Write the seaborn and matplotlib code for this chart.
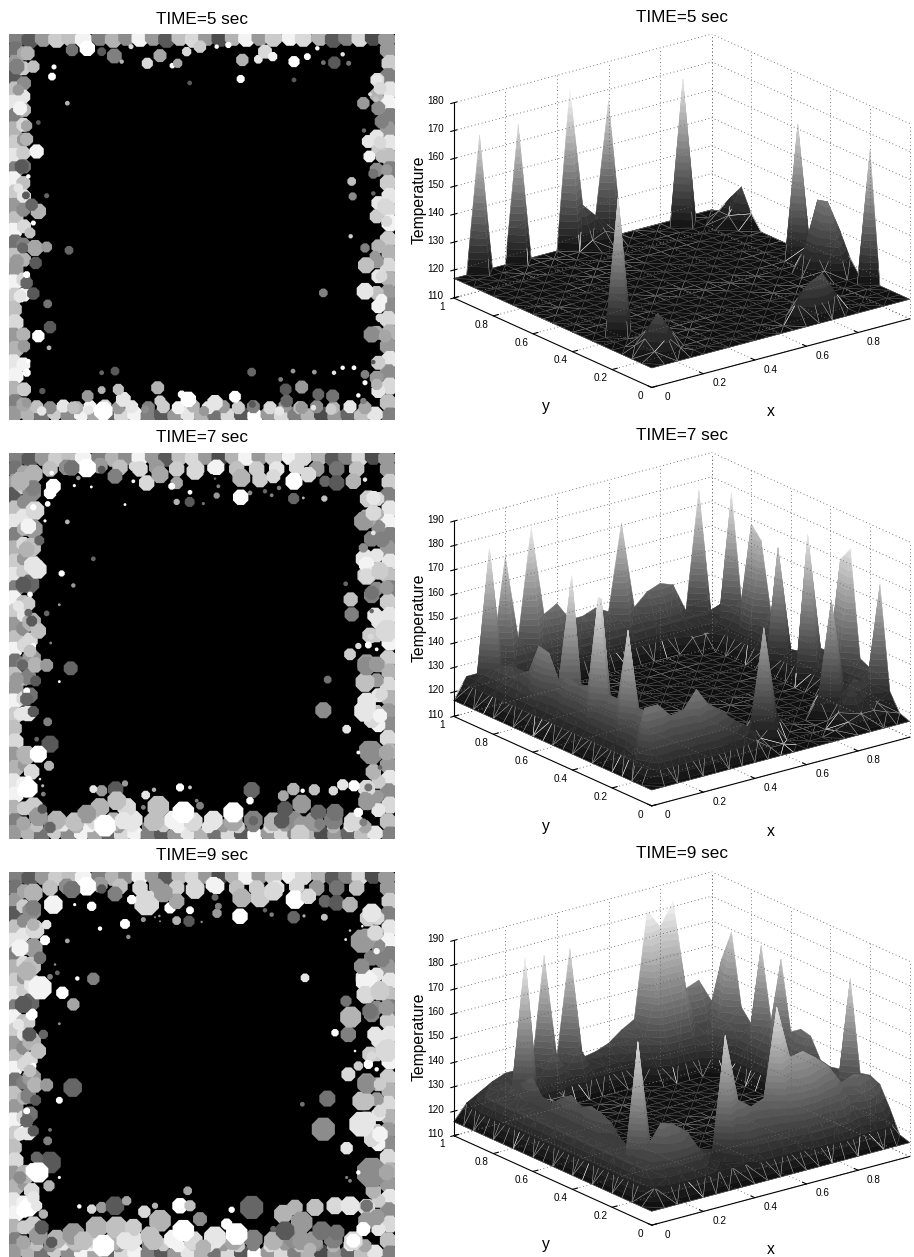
import numpy as np
import pandas as pd
import seaborn as sns
import matplotlib
matplotlib.use("Agg")
import matplotlib.pyplot as plt
from mpl_toolkits.mplot3d import proj3d
from mpl_toolkits.mplot3d.art3d import Poly3DCollection

# grains: x, y, diameter, gray
PANEL_TOPS = [102, 85, 82]

EDGE = [
    (50,115,55,.5),(90,120,55,.35),(130,115,55,.6),(170,118,55,.8),(210,112,55,.75),(250,118,55,.95),(300,112,55,.5),
    (340,118,55,.7),(380,112,55,.55),(420,115,55,.95),(460,112,55,.6),(500,118,55,.35),(540,112,55,.75),(580,118,55,.85),
    (620,112,55,.6),(660,115,55,.3),(700,112,55,.7),(740,115,55,.95),(780,112,55,.6),(820,115,55,.8),(870,112,55,.95),
    (910,115,55,.85),(960,112,55,.7),(1000,118,55,.35),(1040,112,55,.5),(1080,115,55,.85),(1120,112,55,.3),(1160,118,55,.6),
    (45,150,55,.45),(45,190,55,.6),(40,230,55,.35),(45,270,55,.75),(40,310,55,.9),(45,350,55,.5),(40,390,55,.7),(45,430,55,.8),
    (40,470,55,.9),(45,510,55,.5),(40,540,55,.95),(45,580,55,.8),(40,620,55,.6),(45,660,55,.75),(40,695,55,.95),(45,730,55,.45),
    (40,770,55,.75),(45,810,55,.6),(40,850,55,.95),(45,890,55,.8),(40,930,55,.75),(45,970,55,.85),(40,1010,55,.6),(45,1050,55,.7),
    (40,1090,55,.9),(45,1130,55,.95),(40,1170,55,.7),(45,1210,55,.5),(40,1245,55,.6),
    (1165,150,55,.6),(1170,190,55,.8),(1165,230,55,.5),(1170,270,55,.9),(1165,310,55,.95),(1170,350,55,.5),(1165,390,55,.6),
    (1170,430,55,.9),(1165,470,55,.75),(1170,510,55,.5),(1165,550,55,.8),(1170,590,55,.9),(1165,630,55,.85),(1170,670,55,.95),
    (1165,720,55,.8),(1170,760,55,.7),(1165,800,55,.85),(1170,840,55,.7),(1165,880,55,.6),(1170,920,55,.55),(1165,960,55,.85),
    (1170,1000,55,.7),(1165,1040,55,.6),(1170,1080,55,.9),(1165,1120,55,.55),(1170,1160,55,.85),(1165,1210,55,.75),(1170,1250,55,.5),
    (85,1245,50,.7),(125,1250,50,.45),(165,1240,50,.8),(205,1250,50,.55),(245,1245,50,.95),(285,1250,50,.65),(325,1245,50,.4),
    (365,1250,50,.85),(405,1245,50,.95),(445,1250,50,.5),(485,1245,50,.35),(525,1250,50,.6),(565,1245,50,.9),(605,1250,50,.7),
    (645,1245,50,.45),(685,1250,50,.85),(725,1245,50,.35),(765,1250,50,1),(805,1245,50,.6),(845,1250,50,.85),(885,1245,50,.5),
    (925,1250,50,.7),(965,1245,50,.3),(1005,1250,50,.6),(1045,1245,50,.4),(1085,1250,50,.75),(1125,1245,50,.9),
]

EDGE_INNER = [
    (72,160,45,.65),(70,205,45,.8),(72,250,45,.55),(70,290,45,.9),(72,330,45,.7),(70,375,45,.85),(72,420,45,.6),(70,460,45,.8),(72,500,45,.45),
    (70,550,45,.75),(72,590,45,.9),(70,630,45,.55),(72,680,45,.85),(70,735,45,.5),(72,780,45,.7),(70,840,45,.85),(72,885,45,.95),
    (70,1005,45,.7),(72,1040,40,.6),(70,1095,45,.95),(72,1170,45,.8),(70,1215,45,.65),
    (1132,240,45,.85),(1130,285,45,.7),(1135,325,45,.55),(1130,410,45,.9),(1135,450,45,.8),(1130,510,45,.55),(1135,610,45,.9),(1130,650,45,.8),
    (1135,740,45,.7),(1130,785,45,.6),(1135,830,45,.9),(1130,880,45,.75),(1135,920,45,.95),(1130,1000,45,.65),(1135,1090,45,.8),(1130,1135,45,.6),(1135,1175,45,.9),
    (110,1222,42,.75),(150,1225,42,.55),(190,1220,42,.9),(230,1225,42,.7),(270,1222,42,.95),(315,1220,42,.85),(355,1225,42,.6),(395,1222,42,.9),
    (445,1225,42,.5),(490,1222,42,.8),(535,1225,42,.95),(580,1220,42,.7),(625,1225,42,.9),(670,1222,42,.6),(715,1225,42,.8),(760,1222,42,.5),(810,1225,42,.85),
    (855,1220,42,.6),(900,1225,42,.75),(950,1222,42,.55),(1000,1225,42,.7),(1050,1222,42,.9),(1095,1225,42,.65),
]

# extra band where the grains have grown, for the later two times
EDGE_WIDE = [
    (100,165,60,.7),(95,220,60,.55),(105,275,60,.85),(100,330,60,.6),(95,385,60,.75),(100,440,60,.9),(90,495,60,.4),(85,555,45,.8),(95,610,60,.7),
    (90,665,50,.85),(95,720,60,.6),(85,775,50,.5),(90,830,50,.45),(85,885,50,.9),(80,1010,60,.7),(95,1060,50,.85),(85,1110,60,1),(100,1165,60,.8),(115,1195,60,.6),
    (1105,240,55,.8),(1100,300,60,.65),(1115,360,50,.5),(1095,420,60,.9),(1100,470,60,.8),(1115,530,50,.5),(1125,590,50,.9),(1110,650,50,.8),(1100,735,60,.6),
    (1095,790,60,.75),(1100,850,60,.9),(1115,905,50,.85),(1105,995,60,.55),(1120,1060,50,.7),(1100,1110,55,.85),(1100,1150,55,.6),
    (170,1205,60,.7),(225,1210,60,.75),(285,1205,60,.85),(340,1210,60,.7),(400,1205,60,.9),(460,1210,60,.75),(520,1205,60,.95),(580,1210,60,.85),(640,1205,60,.9),
    (700,1210,60,.65),(760,1205,60,.5),(820,1210,60,.7),(880,1205,60,.55),(940,1210,60,.6),(1000,1205,60,.5),(1060,1210,60,.85),
    (150,150,50,.75),(200,145,50,.55),(300,140,50,.6),(360,145,50,.75),(420,150,50,.85),(470,145,50,.6),(530,150,50,.8),(590,150,50,.85),(650,145,50,.95),
    (710,150,50,.75),(770,150,50,.8),(830,150,50,.9),(890,145,50,.85),(950,150,50,.6),(1010,150,50,.45),(1070,150,50,.75),
]

GRAINS_5 = [
    (83,160,45,.7),(50,200,50,.5),(100,200,40,.75),(162,201,16,1),(156,230,25,1),(216,150,40,.45),(262,145,50,1),(305,155,28,.35),
    (343,168,48,.5),(365,185,14,.7),(393,140,16,.85),(442,190,36,.85),(480,167,42,.65),(517,197,18,1),(533,190,30,.65),(569,249,15,.35),
    (560,155,30,.85),(600,140,40,.8),(650,140,14,1),(685,135,20,1),(727,180,40,.7),(722,237,26,1),(775,178,28,.9),(795,155,45,.85),
    (818,170,30,.95),(882,185,36,1),(882,240,15,.35),(922,170,22,1),(952,145,14,1),(970,188,15,.45),(1003,188,40,.35),(1046,190,16,.45),
    (1028,163,14,.9),(1130,240,36,.9),(1110,283,12,.85),(1090,310,40,.6),(1128,298,18,.75),(1140,265,40,.85),(1145,365,45,.5),(1092,392,14,.4),
    (1105,425,42,.9),(1140,428,40,.85),(1108,470,38,.95),(1145,470,40,.75),(1120,522,32,.45),(1160,510,35,.6),(1055,545,28,.75),(1058,590,26,.55),
    (1120,581,14,.4),(1155,620,50,.85),(1160,665,35,.85),(1052,710,14,.8),(1095,745,30,.5),(1125,770,35,.6),(1098,797,52,.75),(1145,830,36,.85),
    (1095,875,54,.9),(1145,900,36,.95),(970,880,28,.5),(1140,955,28,.85),(1115,1005,52,.55),(1155,1010,40,.65),(1095,1125,28,.5),(1130,1155,36,.7),
    (1095,1150,16,1),(1120,1088,14,.35),(1062,1105,15,1),(1028,1105,14,1),(1002,1120,14,.9),(943,1118,15,.6),(879,1115,15,.6),(842,1140,15,.5),
    (755,1118,28,.4),(857,1170,38,.35),(905,1163,42,.6),(860,1205,40,.4),(955,1185,38,.4),(998,1190,42,.45),(1075,1188,14,1),(1090,1205,20,.5),
    (993,1230,35,.8),(905,1225,40,.6),(940,1225,18,.9),(838,1235,30,.9),(705,1192,38,1),(757,1215,22,.35),(645,1210,50,.9),(612,1235,32,.6),
    (565,1200,50,1),(545,1185,25,1),(480,1205,36,.8),(473,1165,42,.7),(435,1230,25,.55),(370,1200,48,.9),(355,1170,36,.75),(305,1172,25,.7),
    (263,1190,38,.6),(220,1225,40,.75),(265,1232,30,.9),(310,1235,60,1),(345,1115,28,.35),(305,1120,15,.4),(127,1175,20,.35),(80,1210,30,.6),
    (125,1235,30,.9),(85,1085,14,1),(80,1120,26,1),(50,1120,30,.95),(147,1045,15,.7),(115,1010,40,1),(150,983,40,.35),(143,913,28,.45),
    (100,882,40,.35),(80,850,40,.4),(80,825,22,1),(60,890,40,.9),(107,790,40,.35),(50,785,45,.6),(105,745,52,.65),(140,742,35,.6),
    (68,745,35,.4),(207,752,28,.4),(90,700,35,.75),(100,670,16,1),(115,635,50,.7),(95,615,40,.4),(140,588,16,.4),(78,587,25,.35),
    (55,565,30,.9),(85,530,14,1),(65,500,45,.35),(110,455,46,.95),(80,418,42,.7),(80,378,36,.65),(115,368,15,.35),(60,325,45,.95),
    (55,270,36,.6),(202,310,15,.7),
]

GRAINS_7 = [
    (160,185,48,1),(150,205,40,1),(100,248,20,1),(143,238,18,1),(135,289,10,1),(223,183,10,1),(274,187,9,1),(375,240,9,1),(400,170,12,1),
    (202,292,15,.7),(118,348,32,.4),(85,305,50,.95),(80,375,50,.7),(112,435,60,.9),(70,480,50,.35),(90,510,18,1),(185,447,20,1),(220,483,14,.6),
    (280,403,15,.4),(178,541,9,.6),(140,567,18,.4),(55,545,36,.9),(85,565,25,.4),(115,620,50,.75),(95,590,35,.35),(152,656,9,.5),(100,665,18,1),
    (90,680,40,.75),(105,722,50,.7),(140,723,42,.6),(68,722,35,.4),(212,732,45,.4),(178,772,9,1),(107,770,35,.35),(50,765,45,.6),(80,800,22,1),
    (80,825,42,.4),(100,862,36,.35),(60,870,40,.9),(143,893,28,.5),(150,960,55,.35),(110,945,15,.4),(115,990,55,1),(147,1025,32,.7),(120,1065,8,.9),
    (85,1065,22,1),(130,1110,15,.5),(128,1085,10,.7),(70,1100,40,1),(127,1155,30,.35),(305,1100,36,.6),(280,1095,25,.9),(347,1095,50,.35),
    (375,1078,20,.6),(437,1113,28,.9),(462,1097,14,.7),(540,1090,26,1),(570,1090,12,.8),(755,1098,52,.4),(750,1130,24,1),(850,1115,35,.65),
    (880,1095,40,.7),(908,1100,14,1),(943,1097,36,.75),(1000,1100,30,.85),(1028,1082,36,.9),(1062,1085,36,1),(905,1140,60,.6),(855,1155,50,.35),
    (845,1190,50,.35),(955,1165,50,.4),(1005,1165,55,.45),(960,1200,36,.5),(905,1200,50,.6),(900,1230,60,.8),(700,1165,65,1),(640,1195,50,.9),
    (600,1145,25,.5),(590,1130,12,.5),(550,1165,70,1),(475,1148,70,.75),(470,1190,50,.75),(430,1150,15,.5),(380,1150,60,.85),(350,1130,60,.75),
    (300,1150,60,.7),(260,1170,60,.6),(220,1195,50,.75),(315,1205,70,1),(370,1190,55,.9),(150,1210,36,.4),(760,1190,30,.4),(1105,1090,25,.45),
    (1095,1120,36,.6),(1075,1165,30,1),(1090,1195,25,.5),(1140,1030,15,.4),(1115,985,75,.55),(1160,985,50,.65),(1075,985,12,1),(1040,915,28,.9),
    (1095,860,70,.9),(1140,875,45,.95),(970,858,52,.55),(983,766,25,.45),(1095,775,60,.75),(1145,810,40,.85),(1100,725,60,.55),(1130,720,50,.6),
    (1050,690,38,.8),(1075,665,20,.85),(1105,662,22,1),(1130,675,12,1),(1112,637,20,.85),(1160,620,70,.85),(1115,560,14,.4),(1055,570,46,.5),
    (1052,525,46,.75),(1037,478,15,.4),(1115,505,45,.45),(1160,490,45,.6),(1100,420,50,.95),(1100,455,50,.85),(1140,440,55,.8),(1090,370,30,.55),
    (1145,345,50,.5),(1120,325,15,.9),(1090,290,60,.6),(1120,265,50,.85),(1120,220,45,.9),(973,222,20,.75),(881,222,36,.4),(910,220,9,.7),
    (837,190,14,.5),(815,212,12,.5),(795,200,14,.4),(750,205,15,.55),(722,218,50,1),(724,160,58,.7),(780,165,50,.8),(820,155,45,.85),(882,170,55,1),
    (925,150,50,.85),(975,170,36,.4),(1010,175,50,.35),(1060,170,50,.7),(1095,165,14,.9),(650,213,20,.6),(655,185,12,.5),(645,162,8,.4),(610,237,10,.45),
    (569,232,32,.35),(570,203,15,1),(530,232,20,.7),(530,175,40,.65),(515,185,22,1),(440,175,50,.85),(480,150,55,.65),(400,125,30,.85),(345,155,48,.5),
    (305,135,25,.35),(260,130,60,1),(215,130,50,.45),(235,160,14,.6),(155,145,14,1),(100,190,50,.5),(60,170,60,.7),(585,140,55,.85),(640,130,40,.95),
]

GRAINS_9 = [
    (275,185,30,1),(224,180,10,1),(300,252,14,1),(375,238,32,1),(385,277,14,.55),(202,289,15,.65),(135,287,32,1),(280,403,40,.5),(232,402,14,1),
    (187,445,40,1),(220,480,40,.65),(915,400,28,.9),(95,510,38,1),(178,538,9,.55),(130,570,30,.4),(88,570,45,.35),(115,620,50,.75),(100,665,20,1),
    (90,680,40,.75),(105,722,50,.7),(140,722,42,.6),(218,730,60,.4),(178,768,22,1),(107,768,35,.35),(80,800,22,1),(80,830,42,.4),(100,860,36,.35),
    (60,870,40,.9),(150,857,12,.45),(143,890,28,.5),(150,955,70,.35),(110,940,38,.4),(115,985,65,1),(100,980,50,1),(147,1025,36,.7),(178,1000,10,1),
    (238,1087,14,1),(60,1000,40,.55),(100,1060,40,.9),(70,1100,45,1),(110,1085,36,.9),(130,1110,30,.7),(125,1150,45,.35),(155,1195,36,.35),(220,1170,70,.6),
    (275,1095,30,.85),(305,1090,36,.6),(345,1085,60,.35),(380,1070,30,.65),(290,1150,70,.7),(350,1150,70,.75),(400,1150,55,.8),(375,1190,55,.9),
    (310,1205,70,1),(250,1190,60,.75),(433,1103,40,.85),(465,1085,20,.7),(480,1130,70,.7),(450,1175,60,.75),(540,1085,50,1),(570,1085,36,.75),(563,1040,28,.65),
    (550,1160,70,1),(600,1125,45,.55),(645,1180,70,.9),(610,1210,50,.7),(695,1097,20,1),(755,1090,75,.4),(710,1170,70,1),(680,1140,36,1),(820,1155,20,.4),
    (850,1110,60,.7),(885,1090,50,.7),(905,1135,70,.6),(945,1090,55,.75),(1005,1085,55,.85),(1050,1085,60,.9),(855,1160,60,.35),(965,1160,60,.45),(1010,1165,50,.45),
    (905,1190,60,.6),(930,1215,40,.7),(1090,1155,45,1),(1100,1085,40,.45),(1130,1120,50,.6),(1060,1190,45,1),(1040,1000,10,.5),(1050,1010,12,.5),(1115,985,95,.55),
    (1075,985,14,1),(1160,985,50,.65),(1040,912,40,.9),(970,855,75,.55),(982,763,52,.45),(907,780,15,.45),(1085,840,80,.9),(1140,870,50,.95),(1140,800,40,.85),
    (1085,770,60,.75),(1100,720,60,.55),(1140,720,40,.8),(1045,690,45,.85),(1075,665,30,.8),(1105,660,30,1),(1130,675,14,1),(1065,620,8,1),(1160,620,70,.85),
    (1115,635,30,.85),(1005,565,24,1),(1045,570,50,.5),(1052,518,68,.7),(1038,470,36,.45),(1110,500,50,.45),(1160,490,50,.6),(1100,410,70,.95),(1095,450,55,.85),
    (1140,440,60,.8),(1085,365,50,.55),(1145,345,50,.5),(1087,290,75,.6),(1130,320,20,.95),(1125,265,50,.85),(1115,205,60,.9),(1037,285,9,.9),(1050,258,8,.8),
    (1087,245,8,1),(973,218,22,.75),(881,218,40,.4),(912,214,10,.7),(815,210,14,.5),(795,197,14,.4),(720,215,50,1),(725,160,60,.7),(780,160,60,.8),(820,140,60,.85),
    (885,165,60,1),(925,155,50,.85),(975,170,40,.4),(1010,175,50,.35),(1050,180,50,.7),(651,206,30,.6),(655,185,22,.5),(645,158,22,.4),(605,232,8,.5),(567,230,36,.35),
    (570,197,25,1),(530,228,28,.7),(510,190,36,1),(430,225,16,.6),(478,214,8,.6),(465,218,6,.6),(480,230,6,.6),(530,170,50,.65),(440,175,80,.85),(490,145,60,.6),
    (395,165,30,1),(345,148,48,.5),(305,133,30,.35),(260,125,60,1),(215,135,55,.45),(160,180,60,.95),(165,360,8,.55),(172,385,15,.4),(150,397,18,.5),(140,240,30,.9),
    (100,240,40,.7),(120,340,40,.45),(80,380,60,.7),(120,430,75,.95),(70,480,55,.35),(55,540,36,.9),(60,310,55,.95),(100,190,50,.5),(585,135,60,.85),(640,120,50,.95),
]

# temperature on the 21x21 mesh: (i along x, first j along y, values going up in j)
FLAT_TEMP = [117, 116.5, 115.7]
TEMP_5 = [
    (1,1,[120,123,119]),(2,1,[124,131,124,119]),(2,6,[166]),(2,20,[166]),(3,1,[119,124,119]),(5,20,[166]),(9,20,[174]),
    (10,19,[120,131]),(11,19,[122,126]),(12,1,[124,118]),(12,19,[120,166]),(13,1,[130,124]),(14,1,[132,124]),
    (15,1,[124,118]),(17,19,[169]),(18,6,[120,126,125]),(19,6,[130,142,141,123,165]),(19,17,[121,121]),
    (20,4,[164]),(20,6,[122,130,128]),(20,16,[122,130,125,118]),
]
TEMP_7 = [
    (1,1,[130,145,128,125,125,125,125,125,125,125,125,125,125,125,125,125,125,125,125,125]),
    (2,1,[130,145,140,140,170,140,140,178,140,138,140,136,146,147,135,132,132,132,178,125]),
    (3,1,[130,139,130,130,130,130,130,130,174,130,130,178,130,130,130,130,130,130,128,130]),
    (4,1,[130,140,125]),(4,19,[128,170]),(5,1,[130,147,125]),(5,19,[128,135]),(6,1,[130,139,125]),(6,19,[128,179]),
    (7,1,[128,135,122]),(7,19,[128,142]),(8,1,[125,130,120]),(8,19,[128,145]),(9,1,[122,126,118]),(9,19,[128,137]),
    (10,1,[118,120,125]),(10,19,[128,137]),(11,1,[118,125,162,125]),(11,19,[128,139]),(12,3,[125]),(12,19,[128,136]),
    (13,19,[128,171]),(14,19,[128,135]),(15,1,[118]),(15,19,[128,140]),(16,1,[120,122,117,125]),(16,19,[128,142]),
    (17,1,[122,130,125,163,125]),(17,18,[122,128,140]),(18,1,[122,125,131,125]),(18,18,[122,128,128]),
    (19,1,[120,122,128,125,125,125,125,125,178,125,125,167,125,125,125,125,125,125,128,176]),
    (20,1,[118,125,167,131,133,176,170,130,130,128,125,124,130,135,163,168,135,177,130,122]),
]
TEMP_9 = [
    (1,1,[122,128,128,128,128,128,128,128,128,128,128,128,128,128,128,128,128,128,125,122]),
    (2,1,[125,132,134,175,130,130,130,130,130,130,130,130,130,130,130,130,130,130,128,125]),
    (3,1,[125,135,142,130,128,126,128,133,135,136,134,137,134,130,131,137,133,130,129,128]),
    (4,1,[125,135,140,122,121,121,121,121,121,121,121,121,121,121,121,121,121,181,128,130]),
    (5,1,[125,132,136,120]),(5,18,[122,128,130]),(6,1,[122,125,127,118]),(6,18,[120,128,127]),
    (7,1,[122,122,125,118]),(7,18,[120,135,174]),(8,1,[122,130,171,125]),(8,19,[128,131]),(9,1,[125,135,143,125]),(9,19,[135,174]),
    (10,1,[125,133,139,122]),(10,19,[125,128]),(11,1,[125,135,141,125]),(11,19,[125,129]),(12,1,[125,140,177,130]),(12,19,[125,131]),
    (13,1,[128,145,155,130,120]),(13,19,[128,135]),(14,1,[128,145,156,135,122]),(14,18,[125,132,138]),
    (15,1,[128,140,152,135,122]),(15,18,[130,150,181]),(16,1,[128,138,147,130,120]),(16,18,[130,150,173]),
    (17,1,[125,132,139,128,120]),(17,18,[130,150,182]),(18,1,[125,135,141,130,122]),(18,17,[125,130,132,145]),
    (19,1,[125,132,139,135,130,128,128,128,128,130,132,132,130,130,130,130,135,135,132,147]),
    (20,1,[117,126,134,136,135,172,133,132,133,141,142,139,167,140,169,135,140,169,156,137]),
]

TITLES = ["TIME=5 sec", "TIME=7 sec", "TIME=9 sec"]
Z_TOPS = [180, 190, 190]
X_TICKS = [0, 0.2, 0.4, 0.6, 0.8]
Y_TICKS = [0, 0.2, 0.4, 0.6, 0.8, 1]
Y_TICK_LABELS = ["0", "0.2", "0.4", "0.6", "0.8", "1"]
X_TICK_LABELS = Y_TICK_LABELS[:5]

ELEV, AZIM = 20.3, -127.5
BOX_Z = 0.64
FONT = "Liberation Sans"
N = 21


def grain_frame(grains, top):
    df = pd.DataFrame(grains, columns=["x", "y", "d", "gray"])
    df["y"] = df["y"] - top
    df["area"] = (df["d"] * 0.24) ** 2
    return df


def draw_grains(ax, grains, top, wide):
    parts = [grain_frame(EDGE, PANEL_TOPS[0]), grain_frame(EDGE_INNER, PANEL_TOPS[0])]
    if wide:
        parts.append(grain_frame(EDGE_WIDE, PANEL_TOPS[0]))
    parts.append(grain_frame(grains, top))
    df = pd.concat(parts, ignore_index=True)
    ax.set_facecolor("black")
    sns.scatterplot(data=df, x="x", y="y", hue="gray", palette="gray", hue_norm=(0, 1),
                    size="area", sizes=(1, 1000), size_norm=(1, 1000), marker="8",
                    linewidth=0, legend=False, ax=ax)
    ax.set_xlim(27, 1185)
    ax.set_ylim(1160, 0)
    ax.set_xticks([])
    ax.set_yticks([])
    ax.set_xlabel("")
    ax.set_ylabel("")
    for s in ax.spines.values():
        s.set_visible(False)


def build_temp(rows, flat):
    z = np.full((N, N), float(flat))
    for i, j0, vals in rows:
        z[i, j0:j0 + len(vals)] = vals
    return z


def clip_poly(poly, level, above):
    # cut a polygon with a horizontal plane, keep one side
    out = []
    for a, b in zip(poly, poly[1:] + poly[:1]):
        ina = a[2] >= level if above else a[2] <= level
        inb = b[2] >= level if above else b[2] <= level
        if ina:
            out.append(a)
        if ina != inb:
            t = (level - a[2]) / (b[2] - a[2])
            out.append(tuple(a[k] + t * (b[k] - a[k]) for k in range(3)))
    return out


def draw_surface(ax, z, cmap, top):
    verts, colors = [], []
    step = 2.5
    base = z.min()
    xs = np.linspace(0, 1, N)
    pt = lambda i, j: (xs[i], xs[j], z[i, j])
    shade = lambda v: cmap(0.06 + 0.94 * np.clip((v - base) / (top - base), 0, 1))
    tris, edges = [], set()
    for i in range(N - 1):
        for j in range(N - 1):
            d1 = abs(z[i, j] - z[i + 1, j + 1])
            d2 = abs(z[i + 1, j] - z[i, j + 1])
            main = (i + j) % 2 == 0 if abs(d1 - d2) < 0.5 else d1 < d2
            if main:
                tris += [[(i, j), (i + 1, j), (i + 1, j + 1)], [(i, j), (i + 1, j + 1), (i, j + 1)]]
                edges.add(((i, j), (i + 1, j + 1)))
            else:
                tris += [[(i, j), (i + 1, j), (i, j + 1)], [(i + 1, j), (i + 1, j + 1), (i, j + 1)]]
                edges.add(((i + 1, j), (i, j + 1)))
            edges.add(((i, j), (i + 1, j)))
            edges.add(((i, j), (i, j + 1)))
            edges.add(((i + 1, j), (i + 1, j + 1)))
            edges.add(((i, j + 1), (i + 1, j + 1)))

    for tri in tris:
        poly = [pt(*n) for n in tri]
        zs = [p[2] for p in poly]
        z0, z1 = min(zs), max(zs)
        if z1 - z0 < step:
            verts.append(poly)
            colors.append(shade((z0 + z1) / 2))
            continue
        b0 = np.floor(z0 / step) * step
        while b0 < z1:
            piece = clip_poly(clip_poly(poly, b0, True), b0 + step, False)
            if len(piece) >= 3:
                verts.append(piece)
                colors.append(shade(b0 + step / 2))
            b0 += step
    edge_colors = list(colors)

    # mesh lines, pushed toward the viewer along the view direction so they sort above the facets
    a, e = np.radians(AZIM), np.radians(ELEV)
    zr = ax.get_zlim()[1] - ax.get_zlim()[0]
    bias = 0.06 * np.array([np.cos(a) * np.cos(e), np.sin(a) * np.cos(e), np.sin(e) * zr / BOX_Z])
    for n0, n1 in edges:
        p0, p1 = np.array(pt(*n0)), np.array(pt(*n1))
        flat = abs(p0[2] - p1[2]) < 1.5 and max(p0[2], p1[2]) < base + 3
        if not flat:
            limit = base + 6
            if p0[2] > p1[2]:
                p0, p1 = p1, p0
            if p0[2] > limit:
                continue
            if p1[2] > limit:
                p1 = p0 + (limit - p0[2]) / (p1[2] - p0[2]) * (p1 - p0)
        verts.append([tuple(p0), tuple(p1), tuple(p1 + bias), tuple(p0 + bias)])
        g = 0.36 if flat else 0.7
        colors.append((g, g, g, 1))
        edge_colors.append((g, g, g, 1))

    coll = Poly3DCollection(verts, linewidths=0.35)
    coll.set_facecolor(colors)
    coll.set_edgecolor(edge_colors)
    ax.add_collection3d(coll)


def put_label(ax, x, y, z, s, ha):
    # place tick text in the 2D frame of the 3D axes
    x2, y2, _ = proj3d.proj_transform(x, y, z, ax.get_proj())
    ax.text2D(x2, y2, s, transform=ax.transData, ha=ha, va="center", fontsize=7.2)


def draw_box(ax, z_top):
    z_ticks = list(range(110, z_top + 1, 10))
    lo, hi = z_ticks[0], z_ticks[-1]
    dots = dict(color="0.4", lw=0.65, ls=(0, (1, 3)))
    solid = dict(color="black", lw=0.8)
    grid_x = X_TICKS[1:] + [1]
    for t in grid_x:
        ax.plot([t, t], [0, 1], [lo, lo], **dots)
        ax.plot([t, t], [1, 1], [lo, hi], **dots)
    for t in Y_TICKS:
        ax.plot([0, 1], [t, t], [lo, lo], **dots)
        ax.plot([1, 1], [t, t], [lo, hi], **dots)
    for t in z_ticks:
        ax.plot([0, 1], [1, 1], [t, t], **dots)
        ax.plot([1, 1], [0, 1], [t, t], **dots)
    ax.plot([0, 1], [0, 0], [lo, lo], **solid)
    ax.plot([0, 0], [0, 1], [lo, lo], **solid)
    ax.plot([0, 0], [1, 1], [lo, hi], **solid)

    rng = hi - lo
    for t, s in zip(X_TICKS, X_TICK_LABELS):
        ax.plot([t, t], [0, 0.02], [lo, lo], **solid)
        put_label(ax, t, -0.08, lo - 0.012 * rng, s, "center")
    for t, s in zip(Y_TICKS, Y_TICK_LABELS):
        ax.plot([0, 0.02], [t, t], [lo, lo], **solid)
        put_label(ax, -0.045, t, lo - 0.029 * rng, s, "center")
    for t in z_ticks:
        ax.plot([-0.012, 0.012], [1, 1], [t, t], **solid)
        put_label(ax, -0.016, 1.03, t, str(t), "right")


sns.set_style("white")
plt.rcParams["font.family"] = [FONT, "DejaVu Sans"]
plt.rcParams["text.color"] = "black"
fig = plt.figure(figsize=(9.14, 12.57), dpi=100)
FW, FH = 914, 1257
gray_map = sns.color_palette("gray", as_cmap=True)

grain_sets = [GRAINS_5, GRAINS_7, GRAINS_9]
temp_sets = [TEMP_5, TEMP_7, TEMP_9]
left_tops = [34, 453, 872]
cy_3d = [210.8, 629.2, 1048.5]
title_y = [20, 437, 855]
temp_y = [200, 618, 1037]
ylab_y = [407, 827, 1245]
xlab_y = [412, 831, 1249]
W3 = 490

for k in range(3):
    ax3 = fig.add_axes([(681.7 - 0.5135 * W3) / FW, 1 - (cy_3d[k] + 0.5135 * W3) / FH, W3 / FW, W3 / FH],
                       projection="3d", proj_type="ortho")
    ax3.patch.set_visible(False)
    ax3.set_axis_off()
    ax3.view_init(elev=ELEV, azim=AZIM)
    ax3.set_box_aspect((1, 1, BOX_Z))
    ax3.set_xlim(0, 1)
    ax3.set_ylim(0, 1)
    ax3.set_zlim(110, Z_TOPS[k])
    draw_box(ax3, Z_TOPS[k])
    z = build_temp(temp_sets[k], FLAT_TEMP[k])
    draw_surface(ax3, z, gray_map, Z_TOPS[k] - 5)

for k in range(3):
    ax = fig.add_axes([9 / FW, 1 - (left_tops[k] + 386) / FH, 386 / FW, 386 / FH])
    draw_grains(ax, grain_sets[k], PANEL_TOPS[k], k > 0)
    fig.text(202 / FW, 1 - title_y[k] / FH, TITLES[k], ha="center", va="center", fontsize=12.3)
    fig.text(682 / FW, 1 - (title_y[k] - 2) / FH, TITLES[k], ha="center", va="center", fontsize=12.3)
    fig.text(419.5 / FW, 1 - temp_y[k] / FH, "Temperature", rotation=90, ha="center", va="center", fontsize=11.3)
    fig.text(546 / FW, 1 - ylab_y[k] / FH, "y", ha="center", va="center", fontsize=11.3)
    fig.text(771 / FW, 1 - xlab_y[k] / FH, "x", ha="center", va="center", fontsize=11.3)

fig.savefig("out.png", dpi=100)
